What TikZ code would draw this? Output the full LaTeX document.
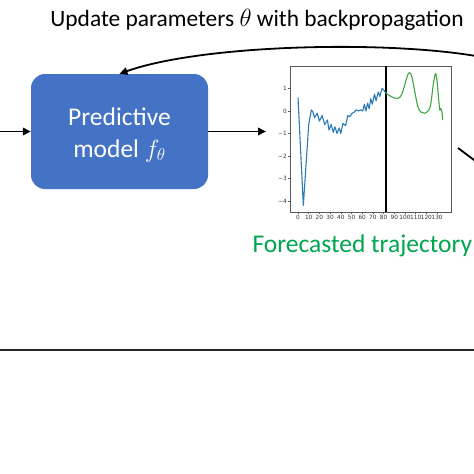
\documentclass[tikz,border=0pt]{standalone}
\usepackage{fontspec}
\setmainfont{Carlito}
\newfontfamily\tickfont{DejaVu Sans}
\usetikzlibrary{arrows.meta}
\definecolor{boxblue}{HTML}{4472C4}
\definecolor{fcgreen}{HTML}{00A550}
\definecolor{mplblue}{HTML}{2A7AB8}
\definecolor{mplgreen}{HTML}{3DA63D}
\begin{document}
\begin{tikzpicture}[x=1pt,y=-1pt,
  conn/.style={line width=1.8pt, -{Triangle[length=8pt,width=7.5pt]}},
  modelbox/.style={fill=boxblue, rounded corners=14pt, minimum width=177pt, minimum height=115pt, text=white, align=center, font=\fontsize{25.5}{32}\selectfont, inner sep=0pt},
  plotframe/.style={draw=black!65, line width=0.7pt},
  ticklab/.style={font=\tickfont\fontsize{5.8}{6.5}\selectfont, text=black!80, inner sep=0.8pt}]
\useasboundingbox (0,0) rectangle (474,474);
\node[font=\fontsize{23.4}{27}\selectfont, anchor=base] (title) at (257,26.7) {Update parameters $\theta$ with backpropagation};
\node[modelbox] (model) at (119.5,131.5) {\rule{0pt}{24pt}Predictive\\model $f_\theta$};
\coordinate (in) at (0,131.5);
\coordinate (plotin) at (266,131.5);
\draw[conn] (in) -- (model.west);
\draw[conn] (model.east) -- (plotin);
\coordinate (fbstart) at (476,56);
\draw[conn] (fbstart) .. controls (380,40) and (200,45) .. (model.north);
\coordinate (ra) at (458,148);
\coordinate (rb) at (476,161.5);
\draw[line width=1.8pt] (ra) -- (rb);
\coordinate (bl) at (0,350);
\coordinate (br) at (474,350);
\draw[line width=1.8pt, black!85] (bl) -- (br);
\node[font=\fontsize{25.5}{30}\selectfont, text=fcgreen, anchor=base west] (fc) at (249,252) {Forecasted trajectory};
\coordinate (origin) at (298,111);
\begin{scope}[shift={(origin)}, x=1.07pt, y=22.5pt]
  \draw[plotframe] (-7.5,-4.49) rectangle (143,2.0);
  \foreach \v/\l in {1/1,0/0,-1/−1,-2/−2,-3/−3,-4/−4} {
    \draw[black!65, line width=0.6pt] (-7.5,\v) -- ++(-2.2pt,0);
    \node[ticklab, anchor=east] at ([xshift=-2.2pt]-7.5,\v) {\l};
  }
  \foreach \v in {0,10,...,130} {
    \draw[black!65, line width=0.6pt] (\v,-4.49) -- ++(0,-2.2pt);
    \node[ticklab, anchor=north] at ([yshift=-2.2pt]\v,-4.49) {\v};
  }
  \draw[line width=1.1pt] (82.2,-4.49) -- (82.2,2.0);
  \draw[mplblue, line width=1.1pt, line join=round] plot coordinates {(0,0.6) (5,-4.2) (10,-0.6) (12.5,0.05) (14,-0.05) (15.5,-0.3) (18,-0.1) (20,-0.45) (22.5,-0.2) (25,-0.6) (27.5,-0.4) (29,-0.85) (31,-0.6) (33,-0.95) (34.5,-0.7) (36.5,-1.0) (38.5,-0.75) (40,-1.0) (42,-0.55) (44.5,-0.65) (46.5,-0.2) (48.5,-0.25) (50.5,-0.1) (52.5,-0.05) (54.5,0.05) (56.5,0.0) (58.5,0.05) (60.5,0.0) (62,0.3) (63.5,0.0) (65,0.35) (66.5,0.1) (68,0.55) (69.5,0.3) (71.5,0.75) (73,0.45) (75,0.85) (76.5,0.65) (78.5,1.0) (80,0.95) (82,0.8)};
  \draw[mplgreen, line width=1.1pt] plot[smooth, tension=0.6] coordinates {(81.5,0.82) (85,0.7) (90,0.58) (94,0.57) (97,0.75) (100,1.2) (102.5,1.6) (104.5,1.7) (106.5,1.5) (109,0.9) (112,0.2) (115,-0.05) (118,-0.1) (121.5,0.0) (124,0.3) (126.5,1.2) (128.5,1.65) (130,1.3) (131.5,0.5) (132.5,0.05) (133.5,0.1) (134.5,-0.05) (135.2,-0.4)};
\end{scope}
\end{tikzpicture}
\end{document}
